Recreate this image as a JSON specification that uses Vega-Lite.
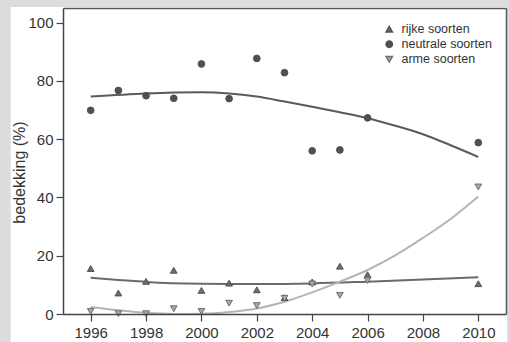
{
  "$schema": "https://vega.github.io/schema/vega-lite/v6.json",
  "width": 443,
  "height": 306,
  "autosize": {"type": "none"},
  "padding": {"left": 63, "top": 8, "right": 3, "bottom": 28},
  "background": "#dcdcdc",
  "config": {
    "view": {"stroke": null, "fill": "white"},
    "font": "Liberation Sans",
    "axis": {"zindex": 1, "grid": false, "domainColor": "#444444", "domainWidth": 1.5, "tickColor": "#444444", "tickWidth": 1.2, "tickSize": 7, "labelFont": "Liberation Sans", "labelFontSize": 15, "labelColor": "#333333", "titleFont": "Liberation Sans", "titleFontWeight": "normal", "titleColor": "#333333"}
  },
  "resolve": {"axis": {"x": "independent", "y": "independent"}},
  "datasets": {
    "points": [
      {"year": 1996, "value": 15.6, "series": "rijke soorten"},
      {"year": 1997, "value": 7.2, "series": "rijke soorten"},
      {"year": 1998, "value": 11.2, "series": "rijke soorten"},
      {"year": 1999, "value": 15.0, "series": "rijke soorten"},
      {"year": 2000, "value": 8.1, "series": "rijke soorten"},
      {"year": 2001, "value": 10.6, "series": "rijke soorten"},
      {"year": 2002, "value": 8.3, "series": "rijke soorten"},
      {"year": 2003, "value": 5.6, "series": "rijke soorten"},
      {"year": 2004, "value": 11.0, "series": "rijke soorten"},
      {"year": 2005, "value": 16.4, "series": "rijke soorten"},
      {"year": 2006, "value": 13.5, "series": "rijke soorten"},
      {"year": 2010, "value": 10.4, "series": "rijke soorten"},
      {"year": 1996, "value": 69.9, "series": "neutrale soorten"},
      {"year": 1997, "value": 76.7, "series": "neutrale soorten"},
      {"year": 1998, "value": 74.9, "series": "neutrale soorten"},
      {"year": 1999, "value": 74.0, "series": "neutrale soorten"},
      {"year": 2000, "value": 85.8, "series": "neutrale soorten"},
      {"year": 2001, "value": 73.9, "series": "neutrale soorten"},
      {"year": 2002, "value": 87.7, "series": "neutrale soorten"},
      {"year": 2003, "value": 82.8, "series": "neutrale soorten"},
      {"year": 2004, "value": 56.0, "series": "neutrale soorten"},
      {"year": 2005, "value": 56.3, "series": "neutrale soorten"},
      {"year": 2006, "value": 67.3, "series": "neutrale soorten"},
      {"year": 2010, "value": 58.8, "series": "neutrale soorten"},
      {"year": 1996, "value": 0.9, "series": "arme soorten"},
      {"year": 1997, "value": 0.1, "series": "arme soorten"},
      {"year": 1998, "value": 0.1, "series": "arme soorten"},
      {"year": 1999, "value": 1.8, "series": "arme soorten"},
      {"year": 2000, "value": 0.9, "series": "arme soorten"},
      {"year": 2001, "value": 3.7, "series": "arme soorten"},
      {"year": 2002, "value": 2.9, "series": "arme soorten"},
      {"year": 2003, "value": 5.4, "series": "arme soorten"},
      {"year": 2004, "value": 10.3, "series": "arme soorten"},
      {"year": 2005, "value": 6.4, "series": "arme soorten"},
      {"year": 2006, "value": 11.5, "series": "arme soorten"},
      {"year": 2010, "value": 43.6, "series": "arme soorten"}
    ],
    "trends": [
      {"year": 1996, "value": 74.6, "series": "neutraal"},
      {"year": 1998, "value": 75.7, "series": "neutraal"},
      {"year": 2000, "value": 76.1, "series": "neutraal"},
      {"year": 2001, "value": 75.7, "series": "neutraal"},
      {"year": 2002, "value": 74.6, "series": "neutraal"},
      {"year": 2003, "value": 72.9, "series": "neutraal"},
      {"year": 2004, "value": 71.1, "series": "neutraal"},
      {"year": 2005, "value": 69.2, "series": "neutraal"},
      {"year": 2006, "value": 67.2, "series": "neutraal"},
      {"year": 2007, "value": 64.6, "series": "neutraal"},
      {"year": 2008, "value": 61.7, "series": "neutraal"},
      {"year": 2009, "value": 57.9, "series": "neutraal"},
      {"year": 2010, "value": 53.9, "series": "neutraal"},
      {"year": 1996, "value": 12.4, "series": "rijk"},
      {"year": 1997, "value": 11.7, "series": "rijk"},
      {"year": 1998, "value": 11.0, "series": "rijk"},
      {"year": 2000, "value": 10.4, "series": "rijk"},
      {"year": 2002, "value": 10.3, "series": "rijk"},
      {"year": 2004, "value": 10.5, "series": "rijk"},
      {"year": 2006, "value": 11.1, "series": "rijk"},
      {"year": 2008, "value": 11.8, "series": "rijk"},
      {"year": 2010, "value": 12.6, "series": "rijk"},
      {"year": 1996, "value": 2.4, "series": "arm"},
      {"year": 1997, "value": 1.3, "series": "arm"},
      {"year": 1998, "value": 0.4, "series": "arm"},
      {"year": 1999, "value": 0.0, "series": "arm"},
      {"year": 2000, "value": 0.1, "series": "arm"},
      {"year": 2001, "value": 0.7, "series": "arm"},
      {"year": 2002, "value": 1.9, "series": "arm"},
      {"year": 2003, "value": 4.2, "series": "arm"},
      {"year": 2004, "value": 7.4, "series": "arm"},
      {"year": 2005, "value": 11.1, "series": "arm"},
      {"year": 2006, "value": 15.1, "series": "arm"},
      {"year": 2007, "value": 20.1, "series": "arm"},
      {"year": 2008, "value": 26.1, "series": "arm"},
      {"year": 2009, "value": 32.6, "series": "arm"},
      {"year": 2010, "value": 40.3, "series": "arm"}
    ]
  },
  "layer": [
    {
      "data": {"values": [{"panel": "white"}]},
      "mark": {"type": "rect", "fill": "white"},
      "encoding": {
        "x": {"datum": 1993.11, "type": "quantitative", "scale": {"domain": [1995, 2011], "nice": false, "zero": false}, "axis": {"orient": "top", "zindex": 2, "title": null, "labels": false, "ticks": false, "domainColor": "#555555", "domainWidth": 1.5}},
        "x2": {"datum": 2011.04},
        "y": {"datum": -10, "type": "quantitative", "scale": {"domain": [0, 105], "nice": false, "zero": false}, "axis": {"orient": "right", "zindex": 2, "title": null, "labels": false, "ticks": false, "domainColor": "#555555", "domainWidth": 1.5}},
        "y2": {"datum": 105.35}
      }
    },
    {
      "data": {"name": "trends"},
      "transform": [{"filter": "datum.series == 'neutraal'"}],
      "mark": {"type": "line", "interpolate": "monotone", "color": "#5a5a5a", "strokeWidth": 2},
      "encoding": {
        "x": {"field": "year", "type": "quantitative", "axis": null},
        "y": {"field": "value", "type": "quantitative", "axis": null}
      }
    },
    {
      "data": {"name": "trends"},
      "transform": [{"filter": "datum.series == 'rijk'"}],
      "mark": {"type": "line", "interpolate": "monotone", "color": "#6a6a6a", "strokeWidth": 2},
      "encoding": {
        "x": {"field": "year", "type": "quantitative", "axis": null},
        "y": {"field": "value", "type": "quantitative", "axis": null}
      }
    },
    {
      "data": {"name": "trends"},
      "transform": [{"filter": "datum.series == 'arm'"}],
      "mark": {"type": "line", "interpolate": "monotone", "color": "#b4b4b4", "strokeWidth": 2},
      "encoding": {
        "x": {"field": "year", "type": "quantitative", "axis": null},
        "y": {"field": "value", "type": "quantitative", "axis": null}
      }
    },
    {
      "data": {"name": "points"},
      "mark": {"type": "point", "filled": true, "size": 45, "strokeWidth": 1, "opacity": 1},
      "encoding": {
        "x": {"field": "year", "type": "quantitative", "axis": {"orient": "bottom", "zindex": 2, "values": [1996, 1998, 2000, 2002, 2004, 2006, 2008, 2010], "format": "d", "title": null, "labelPadding": 4}},
        "y": {"field": "value", "type": "quantitative", "axis": {"orient": "left", "zindex": 2, "values": [0, 20, 40, 60, 80, 100], "title": "bedekking (%)", "titleFontSize": 16, "labelPadding": 3, "titlePadding": 0, "titleY": 164}},
        "shape": {"field": "series", "type": "nominal", "scale": {"domain": ["rijke soorten", "neutrale soorten", "arme soorten"], "range": ["triangle-up", "circle", "triangle-down"]}, "legend": {"title": null, "orient": "none", "legendX": 320, "legendY": 15, "padding": 0, "rowPadding": 2, "labelFontSize": 12.5, "labelColor": "#333333", "labelFont": "Liberation Sans", "symbolSize": 40, "labelOffset": 6}},
        "fill": {"field": "series", "type": "nominal", "scale": {"domain": ["rijke soorten", "neutrale soorten", "arme soorten"], "range": ["#6e6e6e", "#505050", "#a8a8a8"]}, "legend": {"title": null, "orient": "none", "legendX": 320, "legendY": 15, "padding": 0, "rowPadding": 2, "labelFontSize": 12.5, "labelColor": "#333333", "labelFont": "Liberation Sans", "symbolSize": 40, "labelOffset": 6}},
        "stroke": {"field": "series", "type": "nominal", "scale": {"domain": ["rijke soorten", "neutrale soorten", "arme soorten"], "range": ["#505050", "#505050", "#707070"]}, "legend": {"title": null, "orient": "none", "legendX": 320, "legendY": 15, "padding": 0, "rowPadding": 2, "labelFontSize": 12.5, "labelColor": "#333333", "labelFont": "Liberation Sans", "symbolSize": 40, "labelOffset": 6}}
      }
    }
  ]
}
